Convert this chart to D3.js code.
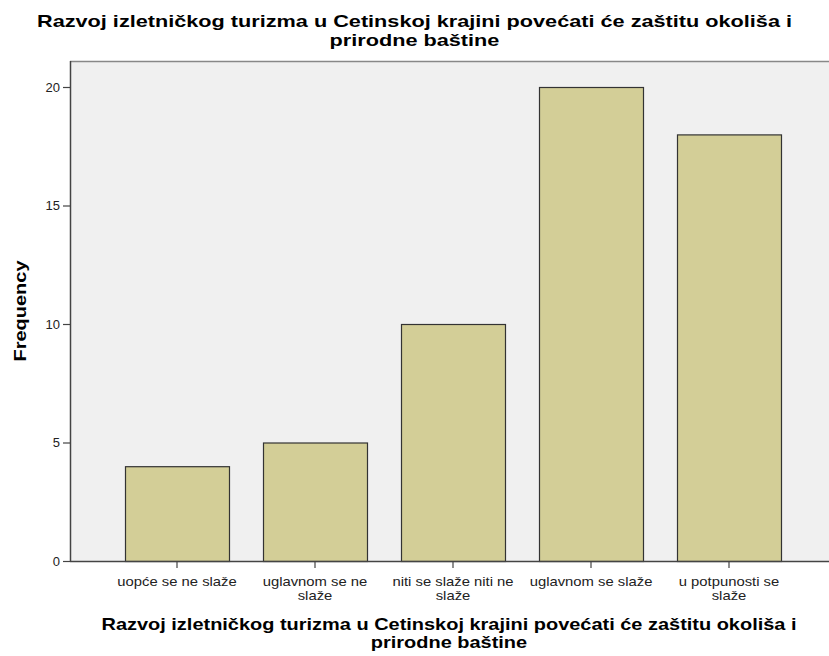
<!DOCTYPE html>
<html><head><meta charset="utf-8">
<script src="https://cdn.jsdelivr.net/npm/d3@7"></script>
<style>body{margin:0;background:#fff}svg{display:block;font-family:"Liberation Sans",Arial,sans-serif}</style>
</head><body>
<svg id="c" width="829" height="656"></svg>
<script>
const titleLines = ["Razvoj izletničkog turizma u Cetinskoj krajini povećati će zaštitu okoliša i", "prirodne baštine"];
const categories = ["uopće se ne slaže", "uglavnom se ne slaže", "niti se slaže niti ne slaže", "uglavnom se slaže", "u potpunosti se slaže"];
const categoryLines = [["uopće se ne slaže"], ["uglavnom se ne", "slaže"], ["niti se slaže niti ne", "slaže"], ["uglavnom se slaže"], ["u potpunosti se", "slaže"]];
const frequencies = [4, 5, 10, 20, 18];
const yTicks = [0, 5, 10, 15, 20];
const yLabel = "Frequency";

const svg = d3.select("#c");
const plotL = 70, plotT = 61, plotR = 829, plotB = 561;

function stretch(sel, f) {
  sel.each(function() {
    const w = this.getComputedTextLength();
    d3.select(this).attr("textLength", w * f).attr("lengthAdjust", "spacingAndGlyphs");
  });
}

const x = d3.scaleBand().domain(categories).range([108, 798]).paddingInner(0.2464).paddingOuter(0.1232);
const y = d3.scaleLinear().domain([0, 20]).range([561, 87]);

svg.append("rect").attr("x", plotL).attr("y", plotT).attr("width", plotR - plotL).attr("height", plotB - plotT).attr("fill", "#f0f0f0");
svg.append("line").attr("x1", plotL).attr("x2", plotR).attr("y1", plotT + 0.5).attr("y2", plotT + 0.5).attr("stroke", "#888").attr("stroke-width", 1.5);

svg.selectAll("rect.bar").data(frequencies).enter().append("rect").attr("class", "bar")
  .attr("x", (d, i) => x(categories[i]) + 0.5)
  .attr("y", d => y(d) + 0.5)
  .attr("width", x.bandwidth())
  .attr("height", d => y(0) - y(d))
  .attr("fill", "#d3ce97").attr("stroke", "#333").attr("stroke-width", 1.2);

// y axis
const ya = svg.append("g").attr("transform", `translate(${plotL},0)`)
  .call(d3.axisLeft(y).tickValues(yTicks).tickSize(7).tickPadding(3).tickSizeOuter(0));
ya.select(".domain").attr("stroke", "#444").attr("stroke-width", 1.5).attr("d", `M0.5,${plotT}V${plotB}`);
ya.selectAll(".tick line").attr("stroke", "#444").attr("stroke-width", 1.2);
ya.selectAll(".tick text").attr("font-size", 13).attr("fill", "#222").attr("font-family", "Liberation Sans, Arial, sans-serif");

// x axis
const xa = svg.append("g").attr("transform", `translate(0,${plotB})`)
  .call(d3.axisBottom(x).tickSize(7).tickSizeOuter(0).tickFormat(""));
xa.select(".domain").attr("stroke", "#444").attr("stroke-width", 1.5).attr("d", `M${plotL},0.5H${plotR}`);
xa.selectAll(".tick line").attr("stroke", "#444").attr("stroke-width", 1.2);
xa.selectAll(".tick").each(function(d, i) {
  const g = d3.select(this);
  categoryLines[i].forEach((ln, j) => {
    g.append("text").attr("class", "xl").attr("fill", "#222").attr("font-size", 13).attr("text-anchor", "middle")
      .attr("font-family", "Liberation Sans, Arial, sans-serif")
      .attr("x", 0).attr("y", 24.5 + j * 14.5).text(ln);
  });
});
stretch(xa.selectAll("text.xl"), 1.14);

// titles
const tl = svg.selectAll("text.title").data(titleLines).enter().append("text").attr("class", "title")
  .attr("text-anchor", "middle").attr("font-size", 17).attr("font-weight", "bold").attr("fill", "#000")
  .attr("x", 414.5).attr("y", (d, j) => 26.5 + j * 19).text(d => d);
stretch(tl, 755 / tl.node().getComputedTextLength());

const xt = svg.selectAll("text.xtitle").data(titleLines).enter().append("text").attr("class", "xtitle")
  .attr("text-anchor", "middle").attr("font-size", 16.5).attr("font-weight", "bold").attr("fill", "#000")
  .attr("x", 449).attr("y", (d, j) => 629.5 + j * 18.5).text(d => d);
stretch(xt, 695 / xt.node().getComputedTextLength());

const yl = svg.append("text").attr("transform", "translate(26,311) rotate(-90)").attr("text-anchor", "middle")
  .attr("font-size", 16).attr("font-weight", "bold").attr("fill", "#000").text(yLabel);
stretch(yl, 101 / yl.node().getComputedTextLength());
</script>
</body></html>
